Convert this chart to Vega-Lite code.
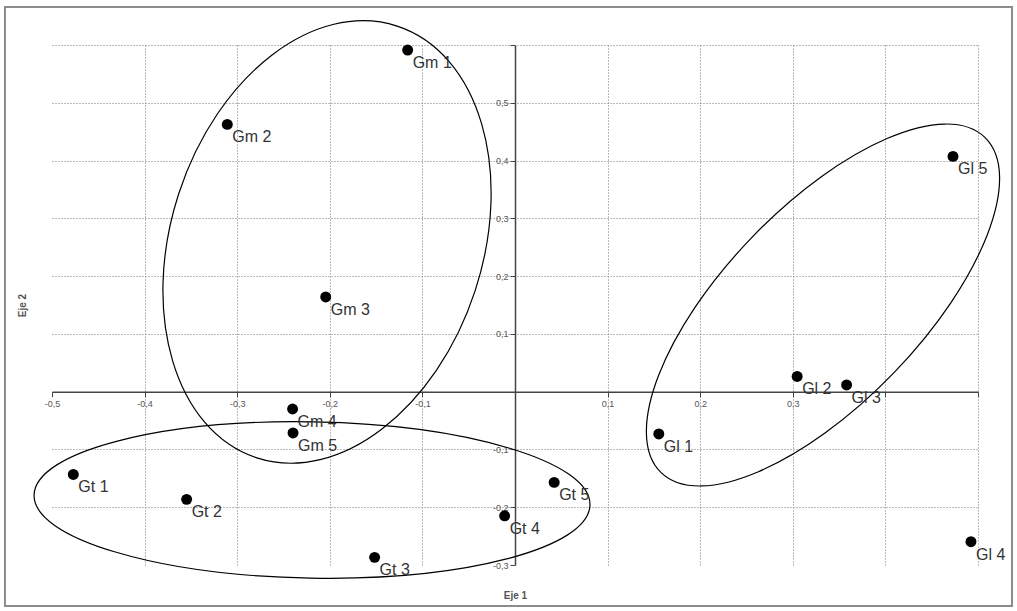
{
  "$schema": "https://vega.github.io/schema/vega-lite/v6.json",
  "width": 926,
  "height": 520,
  "autosize": {"type": "none"},
  "padding": {"left": 52, "top": 45, "right": 39, "bottom": 46},
  "background": "white",
  "config": {"view": {"stroke": null}, "font": "Liberation Sans"},
  "datasets": {
    "puntos": [
      {"label": "Gm 1", "grupo": "Gm", "x": -0.1159, "y": 0.5913},
      {"label": "Gm 2", "grupo": "Gm", "x": -0.3107, "y": 0.4626},
      {"label": "Gm 3", "grupo": "Gm", "x": -0.2044, "y": 0.1639},
      {"label": "Gm 4", "grupo": "Gm", "x": -0.2402, "y": -0.030},
      {"label": "Gm 5", "grupo": "Gm", "x": -0.2397, "y": -0.0715},
      {"label": "Gt 1", "grupo": "Gt", "x": -0.477, "y": -0.1433},
      {"label": "Gt 2", "grupo": "Gt", "x": -0.3546, "y": -0.1864},
      {"label": "Gt 3", "grupo": "Gt", "x": -0.1516, "y": -0.2868},
      {"label": "Gt 4", "grupo": "Gt", "x": -0.0112, "y": -0.2148},
      {"label": "Gt 5", "grupo": "Gt", "x": 0.0423, "y": -0.157},
      {"label": "Gl 1", "grupo": "Gl", "x": 0.1553, "y": -0.0732},
      {"label": "Gl 2", "grupo": "Gl", "x": 0.3047, "y": 0.0264},
      {"label": "Gl 3", "grupo": "Gl", "x": 0.3581, "y": 0.0116},
      {"label": "Gl 4", "grupo": "Gl", "x": 0.4924, "y": -0.2596},
      {"label": "Gl 5", "grupo": "Gl", "x": 0.473, "y": 0.4072}
    ],
    "elipses": [
      {"grupo": "Gm", "x": -0.2030, "y": 0.2591},
      {"grupo": "Gt", "x": -0.2192, "y": -0.1875},
      {"grupo": "Gl", "x": 0.3326, "y": 0.150}
    ],
    "marco": [
      {"x": -0.5508, "x2": 0.5367, "y": 0.6658, "y2": -0.3709}
    ]
  },
  "encoding": {
    "x": {
      "field": "x",
      "type": "quantitative",
      "scale": {"domain": [-0.5, 0.5], "nice": false, "zero": false},
      "axis": {
        "title": "Eje 1",
        "values": [-0.5, -0.4, -0.3, -0.2, -0.1, 0, 0.1, 0.2, 0.3, 0.4, 0.5],
        "offset": -173.3,
        "domainColor": "#444444",
        "domainWidth": 1.5,
        "tickColor": "#444444",
        "tickSize": 5,
        "tickWidth": 1,
        "labelFont": "Liberation Sans",
        "labelFontSize": 9,
        "labelColor": "#555555",
        "labelPadding": 3,
        "labelFlush": false,
        "labelOverlap": false,
        "labelExpr": "(datum.value == 0 || datum.value > 0.35) ? '' : replace(replace(format(datum.value, '.1f'), '.', ','), '\u2212', '-')",
        "grid": true,
        "gridColor": "#777777",
        "gridDash": [1, 2],
        "gridWidth": 1,
        "gridOpacity": {"condition": {"test": "datum.value == 0 || datum.value == -0.5", "value": 0}, "value": 1},
        "titleFont": "Liberation Sans",
        "titleFontSize": 10,
        "titleFontWeight": "bold",
        "titleColor": "#555555",
        "titleY": 207,
        "titleBaseline": "alphabetic"
      }
    },
    "y": {
      "field": "y",
      "type": "quantitative",
      "scale": {"domain": [-0.3, 0.6], "nice": false, "zero": false},
      "axis": {
        "title": "Eje 2",
        "values": [-0.3, -0.2, -0.1, 0, 0.1, 0.2, 0.3, 0.4, 0.5, 0.6],
        "offset": -463,
        "domainColor": "#444444",
        "domainWidth": 1.5,
        "tickColor": "#444444",
        "tickSize": 5,
        "tickWidth": 1,
        "labelFont": "Liberation Sans",
        "labelFontSize": 9,
        "labelColor": "#555555",
        "labelPadding": 2,
        "labelFlush": false,
        "labelOverlap": false,
        "labelExpr": "(datum.value == 0 || datum.value > 0.55) ? '' : replace(replace(format(datum.value, '.1f'), '.', ','), '\u2212', '-')",
        "grid": true,
        "gridColor": "#777777",
        "gridDash": [1, 2],
        "gridWidth": 1,
        "gridOpacity": {"condition": {"test": "datum.value == 0 || datum.value == -0.3", "value": 0}, "value": 1},
        "titleFont": "Liberation Sans",
        "titleFontSize": 10,
        "titleFontWeight": "bold",
        "titleColor": "#555555",
        "titleAngle": 270,
        "titleAlign": "center",
        "titleBaseline": "middle",
        "titleX": -493,
        "titleY": 260
      }
    }
  },
  "layer": [
    {
      "data": {"name": "elipses"},
      "transform": [{"filter": "datum.grupo == 'Gm'"}],
      "mark": {
        "type": "point",
        "shape": "M 1 0 C 1 0.3794 0.5523 0.687 0 0.687 C -0.5523 0.687 -1 0.3794 -1 0 C -1 -0.3794 -0.5523 -0.687 0 -0.687 C 0.5523 -0.687 1 -0.3794 1 0 Z",
        "size": 206116,
        "angle": 288,
        "filled": false,
        "color": "black",
        "strokeWidth": 1.2,
        "opacity": 1
      }
    },
    {
      "data": {"name": "elipses"},
      "transform": [{"filter": "datum.grupo == 'Gt'"}],
      "mark": {
        "type": "point",
        "shape": "M 1 0 C 1 0.1552 0.5523 0.281 0 0.281 C -0.5523 0.281 -1 0.1552 -1 0 C -1 -0.1552 -0.5523 -0.281 0 -0.281 C 0.5523 -0.281 1 -0.1552 1 0 Z",
        "size": 309136,
        "angle": 1,
        "filled": false,
        "color": "black",
        "strokeWidth": 1.2,
        "opacity": 1
      }
    },
    {
      "data": {"name": "elipses"},
      "transform": [{"filter": "datum.grupo == 'Gl'"}],
      "mark": {
        "type": "point",
        "shape": "M 1 0 C 1 0.2325 0.5523 0.421 0 0.421 C -0.5523 0.421 -1 0.2325 -1 0 C -1 -0.2325 -0.5523 -0.421 0 -0.421 C 0.5523 -0.421 1 -0.2325 1 0 Z",
        "size": 217156,
        "angle": 314,
        "filled": false,
        "color": "black",
        "strokeWidth": 1.2,
        "opacity": 1
      }
    },
    {
      "data": {"name": "puntos"},
      "mark": {"type": "circle", "size": 120, "color": "black", "opacity": 1}
    },
    {
      "data": {"name": "puntos"},
      "mark": {
        "type": "text",
        "align": "left",
        "baseline": "alphabetic",
        "dx": 5,
        "dy": 18,
        "font": "Liberation Sans",
        "fontSize": 16,
        "color": "#333333"
      },
      "encoding": {"text": {"field": "label", "type": "nominal"}}
    },
    {
      "data": {"name": "marco"},
      "mark": {"type": "rect", "fill": "transparent", "stroke": "#8c8c8c", "strokeWidth": 2},
      "encoding": {
        "x2": {"field": "x2"},
        "y2": {"field": "y2"}
      }
    }
  ]
}
